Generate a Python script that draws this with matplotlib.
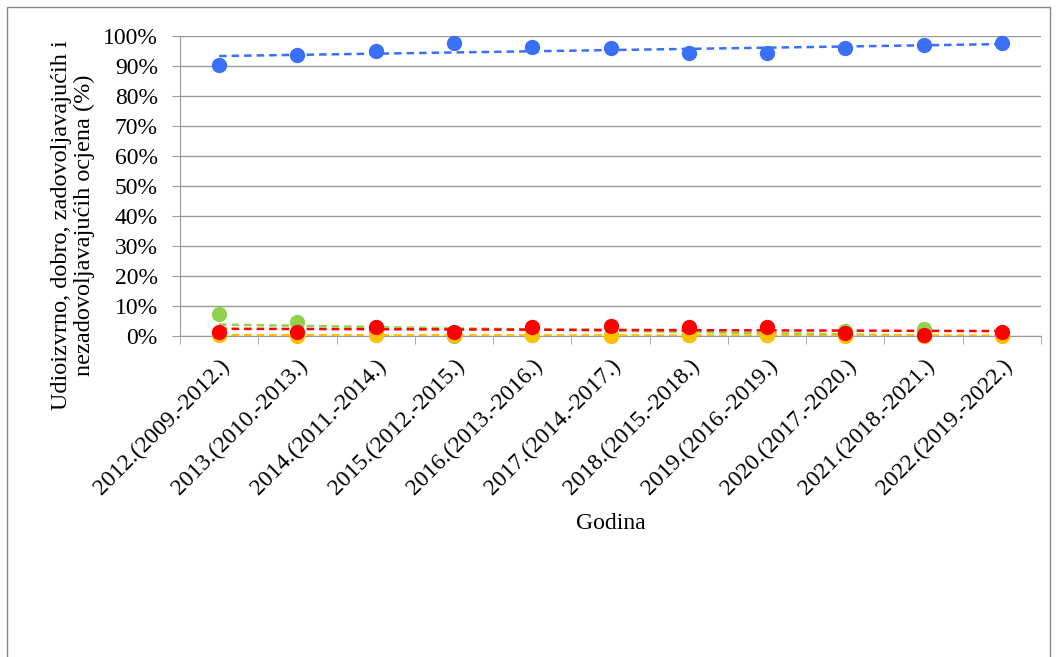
import matplotlib
matplotlib.use("Agg")
import matplotlib.pyplot as plt
import numpy as np
from matplotlib.ticker import PercentFormatter, FixedLocator
from matplotlib.patches import Rectangle

plt.rcParams['font.family'] = ['Liberation Serif', 'DejaVu Serif']

godine = ["2012.(2009.-2012.)", "2013.(2010.-2013.)", "2014.(2011.-2014.)",
          "2015.(2012.-2015.)", "2016.(2013.-2016.)", "2017.(2014.-2017.)",
          "2018.(2015.-2018.)", "2019.(2016.-2019.)", "2020.(2017.-2020.)",
          "2021.(2018.-2021.)", "2022.(2019.-2022.)"]
izvrsno_dobro = [90.2, 93.7, 95.1, 97.8, 96.4, 96.0, 94.3, 94.3, 96.0, 97.0, 97.6]
zadovoljavajuce = [7.5, 4.8, 1.5, 0.0, 0.4, 0.3, 0.4, 0.3, 1.6, 2.4, 0.2]
nezadovoljavajuce = [1.4, 1.4, 3.1, 1.4, 2.9, 3.5, 3.1, 3.1, 0.9, 0.3, 1.2]
ostalo = [0.5, 0.1, 0.2, 0.2, 0.2, 0.1, 0.4, 0.2, 0.1, 0.1, 0.1]

serije = [
    (izvrsno_dobro, '#3a6ff7'),
    (zadovoljavajuce, '#92d050'),
    (ostalo, '#ffc000'),
    (nezadovoljavajuce, '#ff0000'),
]

fig = plt.figure(figsize=(10.59, 6.57), dpi=100)
ax = fig.add_axes([180 / 1059, 1 - 336 / 657, 861 / 1059, 300 / 657])

x = np.arange(len(godine))
for vals, boja in serije:
    v = np.array(vals)
    ax.plot(x, v, 'o', color=boja, markersize=10, zorder=3, clip_on=False)
    k, n = np.polyfit(x, v, 1)
    ax.plot(x, k * x + n, '--', color=boja, linewidth=1.8, dashes=(3, 2), zorder=3)

ax.set_xlim(-0.5, len(godine) - 0.5)
ax.set_ylim(0, 100)
ax.set_yticks(np.arange(0, 101, 10))
ax.yaxis.set_major_formatter(PercentFormatter(decimals=0))
ax.grid(axis='y', color='#999999', linewidth=1)
ax.set_axisbelow(True)

ax.set_xticks(x)
ax.set_xticklabels(godine, rotation=45, ha='right', rotation_mode='anchor')
ax.xaxis.set_minor_locator(FixedLocator(np.arange(-0.5, len(godine), 1)))
ax.tick_params(axis='x', which='major', length=0, pad=14)
ax.tick_params(axis='x', which='minor', length=6, color='#999999')
ax.tick_params(axis='y', length=6, color='#999999', pad=10)
ax.tick_params(labelsize=17)

for s in ['top', 'right']:
    ax.spines[s].set_visible(False)
for s in ['left', 'bottom']:
    ax.spines[s].set_color('#999999')

ax.set_xlabel("Godina", fontsize=17, labelpad=10)
ax.set_ylabel("Udioizvrno, dobro, zadovoljavajućih i\nnezadovoljavajućih ocjena (%)",
              fontsize=17.5, linespacing=1.1)
ax.yaxis.set_label_coords(-0.099, 0.37)

fig.patches.append(Rectangle((7 / 1059, -0.01), 1043 / 1059, 1 - 7 / 657 + 0.01,
                             transform=fig.transFigure, fill=False,
                             edgecolor='#888888', linewidth=1))

fig.savefig("out.png", dpi=100)
